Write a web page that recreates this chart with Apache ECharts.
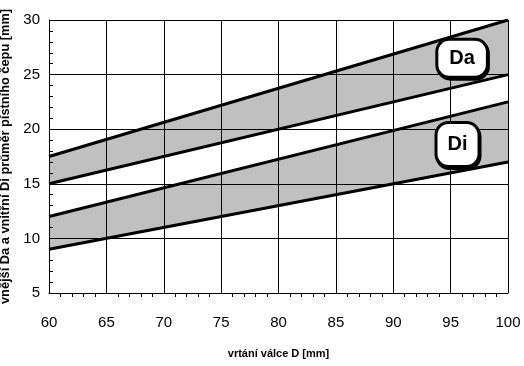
<!DOCTYPE html>
<html><head><meta charset="utf-8">
<script src="https://cdn.jsdelivr.net/npm/echarts@6/dist/echarts.min.js"></script>
<style>html,body{margin:0;padding:0;background:#fff}#c{width:524px;height:366px}</style>
</head><body><div id="c"></div>
<script>
var xValues = [60, 100];
var daUpper = [17.5, 30];
var daLower = [15, 25];
var diUpper = [12, 22.5];
var diLower = [9, 17];
var xTicks = [60, 65, 70, 75, 80, 85, 90, 95, 100];
var yTicks = [5, 10, 15, 20, 25, 30];
var labelDa = {name: 'Da', x: 96, y: 26.5};
var labelDi = {name: 'Di', x: 95.6, y: 18.6};

function pts(ys) { return xValues.map(function (x, i) { return [x, ys[i]]; }); }
function bandData(up, low) { return xValues.map(function (x, i) { return [x, up[i], low[i]]; }); }

var font = 'Liberation Sans, Arial, sans-serif';
function lineSeries(ys) {
  return {type: 'line', data: pts(ys), symbol: 'none', z: 4,
    lineStyle: {color: '#000', width: 3}, silent: true};
}
function bandSeries(up, low) {
  var d = bandData(up, low);
  return {type: 'custom', z: 2, silent: true, data: d,
    encode: {x: 0, y: [1, 2]},
    renderItem: function (params, api) {
      var i = params.dataIndex;
      if (i >= d.length - 1) return null;
      var a = d[i], b = d[i + 1];
      var p = [api.coord([a[0], a[1]]), api.coord([b[0], b[1]]), api.coord([b[0], b[2]]), api.coord([a[0], a[2]])];
      return {type: 'polygon', shape: {points: p}, style: {fill: '#c0c0c0'}};
    }};
}
function boxLabel(l) {
  return {coord: [l.x, l.y], value: l.name,
    label: {show: true, position: 'inside', formatter: l.name,
      color: '#000', fontFamily: font, fontWeight: 'bold', fontSize: 20,
      backgroundColor: '#fff', borderColor: '#000', borderWidth: 3, borderRadius: 11,
      padding: l.name === 'Da' ? [8, 11, 7, 11] : [11, 10, 10, 10],
      shadowColor: '#000', shadowOffsetY: 2, shadowOffsetX: 1, shadowBlur: 0}};
}
var chart = echarts.init(document.getElementById('c'));
chart.setOption({
  animation: false,
  backgroundColor: '#fff',
  grid: {left: 49, right: 16, top: 20, bottom: 73, show: false, containLabel: false, outerBoundsMode: 'none'},
  xAxis: {type: 'value', min: 60, max: 100, interval: 5, z: 3,
    name: 'vrtání válce D [mm]', nameLocation: 'middle', nameGap: 55,
    nameTextStyle: {fontFamily: font, fontWeight: 'bold', fontSize: 11, color: '#000'},
    axisLine: {show: true, onZero: false, lineStyle: {color: '#000', width: 1}},
    axisTick: {show: false},
    minorTick: {show: true, splitNumber: 5, length: 4, lineStyle: {color: '#000'}},
    splitLine: {show: true, lineStyle: {color: '#000', width: 1}},
    axisLabel: {fontFamily: font, fontSize: 15, color: '#000', margin: 22,
      formatter: function (v) { return xTicks.indexOf(v) >= 0 ? String(v) : ''; }}
  },
  yAxis: {type: 'value', min: 5, max: 30, interval: 5, z: 3,
    name: 'vnější Da a vnitřní Di průměr pístního čepu [mm]', nameLocation: 'middle', nameGap: 29,
    nameTextStyle: {fontFamily: font, fontWeight: 'bold', fontSize: 12.8, color: '#000'},
    axisLine: {show: true, onZero: false, lineStyle: {color: '#000', width: 1}},
    axisTick: {show: false, inside: true},
    minorTick: {show: true, splitNumber: 5, length: 4, lineStyle: {color: '#000'}},
    splitLine: {show: true, lineStyle: {color: '#000', width: 1}},
    axisLabel: {fontFamily: font, fontSize: 15, color: '#000', margin: 9,
      formatter: function (v) { return yTicks.indexOf(v) >= 0 ? String(v) : ''; }}
  },
  series: [
    bandSeries(daUpper, daLower),
    bandSeries(diUpper, diLower),
    lineSeries(daUpper), lineSeries(daLower), lineSeries(diUpper), lineSeries(diLower),
    {type: 'line', data: [], z: 10,
      markPoint: {symbol: 'circle', symbolSize: 0, z: 10, data: [boxLabel(labelDa), boxLabel(labelDi)]}}
  ]
});
</script></body></html>
